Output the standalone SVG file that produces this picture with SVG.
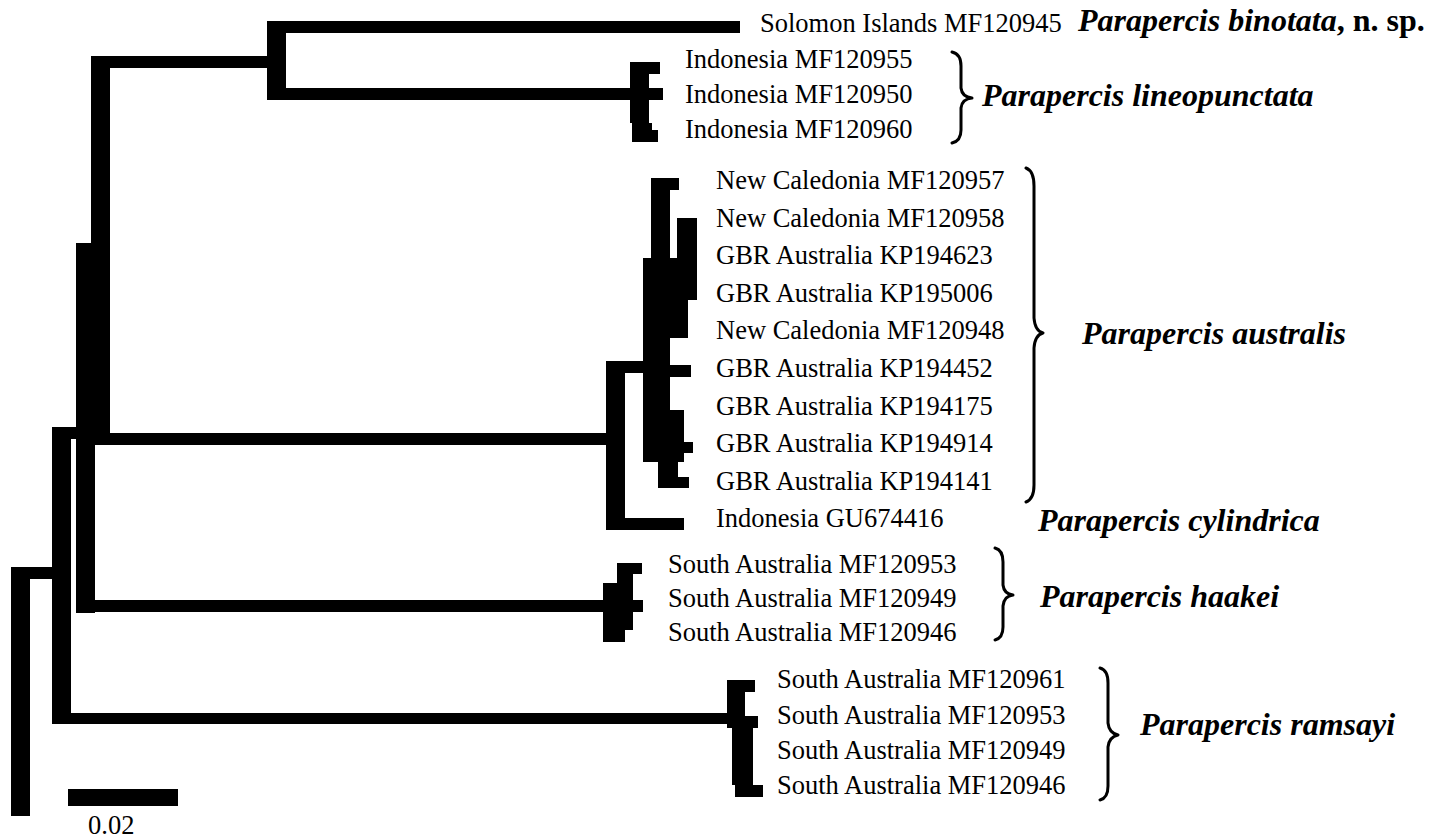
<svg xmlns="http://www.w3.org/2000/svg" width="1441" height="839" viewBox="0 0 1441 839">
<style>
.t{font-family:"Liberation Serif","Times New Roman",serif;font-size:26.5px;fill:#000}
.sp{font-family:"Liberation Serif","Times New Roman",serif;font-size:32px;font-weight:bold;font-style:italic;fill:#000}
.br{fill:none;stroke:#000;stroke-width:3;stroke-linejoin:round;stroke-linecap:round}
#connectors rect{fill:#000}
</style>
<rect width="1441" height="839" fill="#fff"/>
<g id="connectors">
<rect x="11" y="567" width="19" height="249"/>
<rect x="11" y="567" width="41" height="12"/>
<rect x="52" y="427" width="19" height="297"/>
<rect x="52" y="427" width="24" height="12"/>
<rect x="71" y="713" width="656" height="11"/>
<rect x="76" y="243" width="34" height="190"/>
<rect x="91" y="56" width="19" height="190"/>
<rect x="76" y="433" width="19" height="180"/>
<rect x="95" y="600" width="510" height="12"/>
<rect x="95" y="433" width="511" height="12"/>
<rect x="91" y="56" width="176" height="12"/>
<rect x="267" y="21" width="19" height="79"/>
<rect x="286" y="21" width="454" height="12"/>
<rect x="286" y="88" width="344" height="12"/>
<rect x="630" y="62" width="30" height="12"/>
<rect x="630" y="62" width="19" height="61"/>
<rect x="630" y="88" width="33" height="12"/>
<rect x="632" y="123" width="20" height="19"/>
<rect x="632" y="130" width="26" height="12"/>
<rect x="606" y="361" width="19" height="169"/>
<rect x="606" y="361" width="37" height="12"/>
<rect x="625" y="518" width="59" height="12"/>
<rect x="651" y="178" width="28" height="12"/>
<rect x="651" y="178" width="19" height="80"/>
<rect x="677" y="218" width="20" height="82"/>
<rect x="643" y="258" width="54" height="42"/>
<rect x="643" y="300" width="45" height="38"/>
<rect x="643" y="338" width="27" height="124"/>
<rect x="670" y="365" width="21" height="12"/>
<rect x="665" y="410" width="19" height="52"/>
<rect x="665" y="442" width="28" height="11"/>
<rect x="658" y="462" width="20" height="26"/>
<rect x="658" y="477" width="31" height="11"/>
<rect x="617" y="563" width="25" height="11"/>
<rect x="617" y="563" width="16" height="22"/>
<rect x="603" y="583" width="30" height="47"/>
<rect x="603" y="600" width="40" height="12"/>
<rect x="603" y="630" width="22" height="12"/>
<rect x="727" y="680" width="28" height="12"/>
<rect x="727" y="680" width="18" height="48"/>
<rect x="727" y="716" width="31" height="12"/>
<rect x="732" y="728" width="21" height="57"/>
<rect x="735" y="785" width="28" height="12"/>
</g>
<g id="leaf-solomon"><text class="t" x="760" y="32">Solomon Islands MF120945</text></g>
<g id="leaf-indo1"><text class="t" x="685" y="68">Indonesia MF120955</text></g>
<g id="leaf-indo2"><text class="t" x="685" y="103">Indonesia MF120950</text></g>
<g id="leaf-indo3"><text class="t" x="685" y="138">Indonesia MF120960</text></g>
<g id="leaf-nc1"><text class="t" x="716" y="189">New Caledonia MF120957</text></g>
<g id="leaf-nc2"><text class="t" x="716" y="227">New Caledonia MF120958</text></g>
<g id="leaf-gbr1"><text class="t" x="716" y="264">GBR Australia KP194623</text></g>
<g id="leaf-gbr2"><text class="t" x="716" y="302">GBR Australia KP195006</text></g>
<g id="leaf-nc3"><text class="t" x="716" y="339">New Caledonia MF120948</text></g>
<g id="leaf-gbr3"><text class="t" x="716" y="377">GBR Australia KP194452</text></g>
<g id="leaf-gbr4"><text class="t" x="716" y="415">GBR Australia KP194175</text></g>
<g id="leaf-gbr5"><text class="t" x="716" y="452">GBR Australia KP194914</text></g>
<g id="leaf-gbr6"><text class="t" x="716" y="490">GBR Australia KP194141</text></g>
<g id="leaf-indo4"><text class="t" x="716" y="527">Indonesia GU674416</text></g>
<g id="leaf-sa1"><text class="t" x="668" y="573">South Australia MF120953</text></g>
<g id="leaf-sa2"><text class="t" x="668" y="607">South Australia MF120949</text></g>
<g id="leaf-sa3"><text class="t" x="668" y="641">South Australia MF120946</text></g>
<g id="leaf-sa4"><text class="t" x="777" y="688">South Australia MF120961</text></g>
<g id="leaf-sa5"><text class="t" x="777" y="724">South Australia MF120953</text></g>
<g id="leaf-sa6"><text class="t" x="777" y="759">South Australia MF120949</text></g>
<g id="leaf-sa7"><text class="t" x="777" y="794">South Australia MF120946</text></g>
<g id="brace-lineo"><path class="br" d="M952,52 Q961,54 961,66 L961,88 Q962,97 972,98 Q962,99 961,108 L961,130 Q961,141 952,143"/></g>
<g id="brace-australis"><path class="br" d="M1026,168 Q1034,171 1034,186 L1034,318 Q1035,331 1043,333 Q1035,335 1034,348 L1034,485 Q1034,499 1026,502"/></g>
<g id="brace-haakei"><path class="br" d="M995,548 Q1003,550 1003,562 L1003,585 Q1004,594 1013,595 Q1004,596 1003,606 L1003,627 Q1003,638 995,640"/></g>
<g id="brace-ramsayi"><path class="br" d="M1100,668 Q1108,670 1108,683 L1108,723 Q1109,733 1118,735 Q1109,737 1108,747 L1108,786 Q1108,798 1100,800"/></g>
<g id="sp-binotata"><text class="sp" x="1078" y="31">Parapercis binotata<tspan font-style="normal">, n. sp.</tspan></text></g>
<g id="sp-lineo"><text class="sp" x="982" y="106">Parapercis lineopunctata</text></g>
<g id="sp-australis"><text class="sp" x="1082" y="344">Parapercis australis</text></g>
<g id="sp-cylindrica"><text class="sp" x="1038" y="531">Parapercis cylindrica</text></g>
<g id="sp-haakei"><text class="sp" x="1040" y="607">Parapercis haakei</text></g>
<g id="sp-ramsayi"><text class="sp" x="1140" y="735">Parapercis ramsayi</text></g>
<g id="scale"><rect x="68" y="789" width="110" height="17" fill="#000"/><text class="t" x="88" y="834" font-size="27">0.02</text></g>
</svg>
